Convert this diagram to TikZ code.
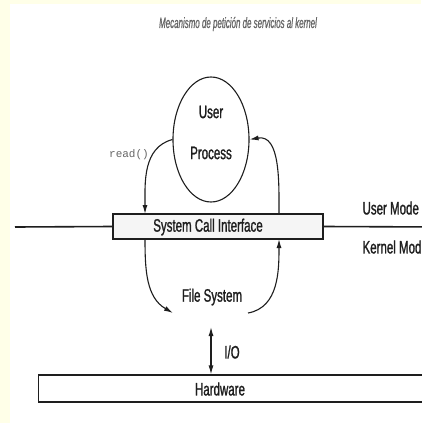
\documentclass[tikz,border=0pt]{standalone}
\usepackage{fontspec}
\setmainfont{Liberation Sans}
\newfontfamily\narrowfont[FakeStretch=0.64,FakeBold=1.2]{Liberation Sans}
\newfontfamily\titlefont[FakeStretch=0.53,FakeBold=0.6]{Liberation Sans}
\newfontfamily\codefont{Liberation Mono}
\usetikzlibrary{arrows.meta,shapes.geometric}
\definecolor{paper}{HTML}{FFFFE8}
\definecolor{ink}{HTML}{1E1E1E}
\definecolor{dimtext}{HTML}{666666}
\tikzset{
  lbl/.style={font=\narrowfont\fontsize{18}{20}\selectfont, text=ink, inner sep=0pt},
  procshape/.style={ellipse, draw=ink, minimum width=76pt, minimum height=125pt, inner sep=0pt},
  scibox/.style={rectangle, draw=ink, fill=gray!8, minimum width=210pt, minimum height=25pt, inner sep=0pt},
  hwbox/.style={rectangle, draw=ink, minimum width=410pt, minimum height=27pt, inner sep=0pt, anchor=west},
  flow/.style={->, draw=ink}
}
\begin{document}
\begin{tikzpicture}[x=1pt, y=-1pt, >={Latex[length=9pt,width=5pt]}, line width=1.1pt]
  % page and margins
  \useasboundingbox[fill=paper] (0,0) rectangle (421,423);
  \fill[white] (10,4) rectangle (421,423);

  \node[font=\titlefont\itshape\fontsize{15}{17}\selectfont, text=dimtext] (title) at (238,24)
    {Mecanismo de petición de servicios al kernel};

  % user process
  \node[procshape] (proc) at (211,139.5) {};
  \node[lbl] (user) at (211,112) {User};
  \node[lbl] (process) at (211,153) {Process};

  % system call interface and mode line
  \node[scibox] (sci) at (218,226.5) {};
  \node[lbl] (scilabel) at (208,227) {System Call Interface};
  \coordinate (lineL) at (15,227);
  \coordinate (lineR) at (440,227);
  \draw[ink, line width=1.6pt] (lineL) -- (sci.west);
  \draw[ink, line width=1.6pt] (sci.east) -- (lineR);
  \node[lbl, anchor=west] (umode) at (362,208) {User Mode};
  \node[lbl, anchor=west] (kmode) at (362,247) {Kernel Mod};

  % calls through the interface
  \node[font=\codefont\fontsize{11}{12}\selectfont, text=dimtext, inner sep=0pt] (readcall) at (129,155) {read()};
  \coordinate (downA) at (145,214);
  \coordinate (upA) at (279,214);
  \coordinate (downB) at (145,239);
  \coordinate (upB) at (279,239);
  \draw[flow] (proc.west) to[out=195, in=90] (downA);
  \draw[flow] (upA) to[out=90, in=10] (proc.east);

  % file system
  \node[lbl] (fs) at (212,297) {File System};
  \coordinate (fsin) at (173,313);
  \coordinate (fsout) at (248,313);
  \draw[flow] (downB) to[out=-90, in=150] (fsin);
  \draw[flow] (fsout) to[out=10, in=-90] (upB);

  % hardware
  \node[hwbox] (hw) at (38,388.5) {};
  \node[lbl] (hwlabel) at (220,389) {Hardware};
  \coordinate (io) at (211,327);
  \draw[<->, draw=ink] (io) -- (io |- hw.north);
  \node[lbl] (iolabel) at (232,352) {I/O};
\end{tikzpicture}
\end{document}
